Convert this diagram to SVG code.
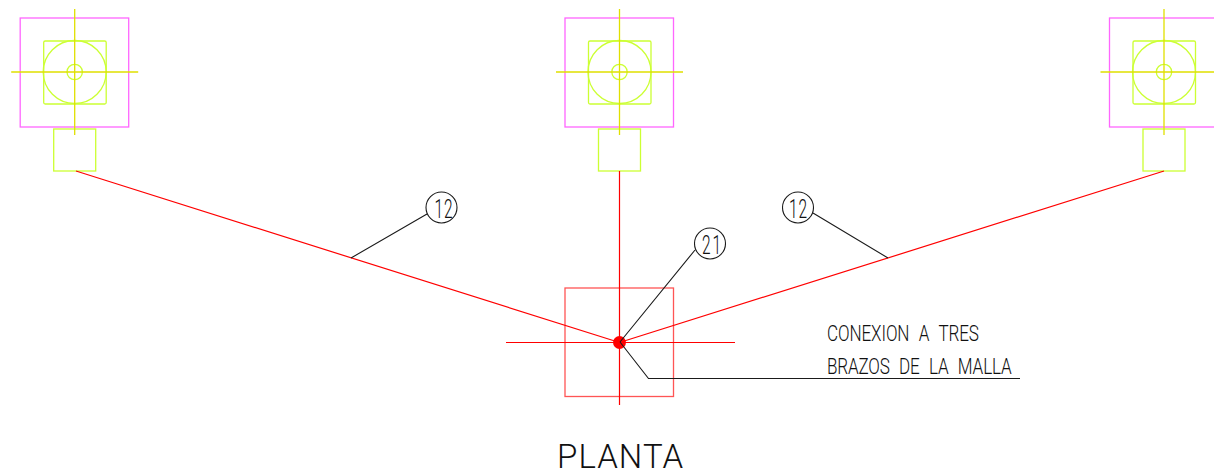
<svg xmlns="http://www.w3.org/2000/svg" width="1214" height="474" viewBox="0 0 1214 474">
<style>
.m{fill:none;stroke:#ff66ff;stroke-width:1.3}
.g{fill:none;stroke:#ccff33;stroke-width:1.3}
.y{fill:none;stroke:#e0e000;stroke-width:1.3}
.r{fill:none;stroke:#ff0000;stroke-width:1.2}
.rs{fill:none;stroke:#ff5555;stroke-width:1.3}
.k{fill:none;stroke:#1a1a1a;stroke-width:1.1}
.c{fill:#fff;stroke:#1a1a1a;stroke-width:1.1}
text{font-family:"Roboto","Liberation Sans",sans-serif;font-weight:300;fill:#111}
</style>
<defs>
<g id="column">
<rect class="m" x="-54.5" y="18" width="108.5" height="109"/>
<rect class="g" x="-31" y="41" width="62.5" height="63" rx="1.5"/>
<circle class="g" cx="0" cy="72" r="31.5"/>
<circle class="g" cx="0" cy="72" r="7.7"/>
<rect class="g" x="-21" y="129" width="42" height="42"/>
<path class="y" d="M0 9V135M-63.5 72H63.5"/>
</g>
</defs>
<g id="column-left"><use href="#column" x="74.7"/></g>
<g id="column-center"><use href="#column" x="619.5"/></g>
<g id="column-right"><use href="#column" x="1164"/></g>
<g id="central-base">
<rect class="rs" x="565" y="288" width="108.5" height="108.5"/>
<circle cx="619.5" cy="342.5" r="6.5" fill="#ff0000"/>
</g>
<g id="connectors">
<path class="r" d="M76 171L619.5 342.5M1164 171L619.5 342.5M619.5 171V405M506 342.5H735"/>
<path class="k" d="M427 214L351 258M813 213L888 258M695 250L620 342M620 342L648.5 378.5H1020"/>
</g>
<g id="tag-12-left"><circle class="c" cx="441.5" cy="207.5" r="15.5"/><text transform="translate(434.5 217.7) scale(.62 1)" font-size="25" textLength="29" lengthAdjust="spacing">12</text></g>
<g id="tag-12-right"><circle class="c" cx="798" cy="207.5" r="15.5"/><text transform="translate(789 217.7) scale(.62 1)" font-size="25" textLength="29" lengthAdjust="spacing">12</text></g>
<g id="tag-21"><circle class="c" cx="710" cy="243.5" r="15.5"/><text transform="translate(702 254.2) scale(.62 1)" font-size="25" textLength="31" lengthAdjust="spacing">21</text></g>
<g id="note">
<text transform="translate(827 341) scale(.76 1)" font-size="22.5" word-spacing="7" textLength="200" lengthAdjust="spacing">CONEXION A TRES</text>
<text transform="translate(827 373.5) scale(.76 1)" font-size="22.5" word-spacing="7" textLength="243" lengthAdjust="spacing">BRAZOS DE LA MALLA</text>
</g>
<g id="title"><text transform="translate(557 468)" font-size="33" textLength="126" lengthAdjust="spacing">PLANTA</text></g>
</svg>
